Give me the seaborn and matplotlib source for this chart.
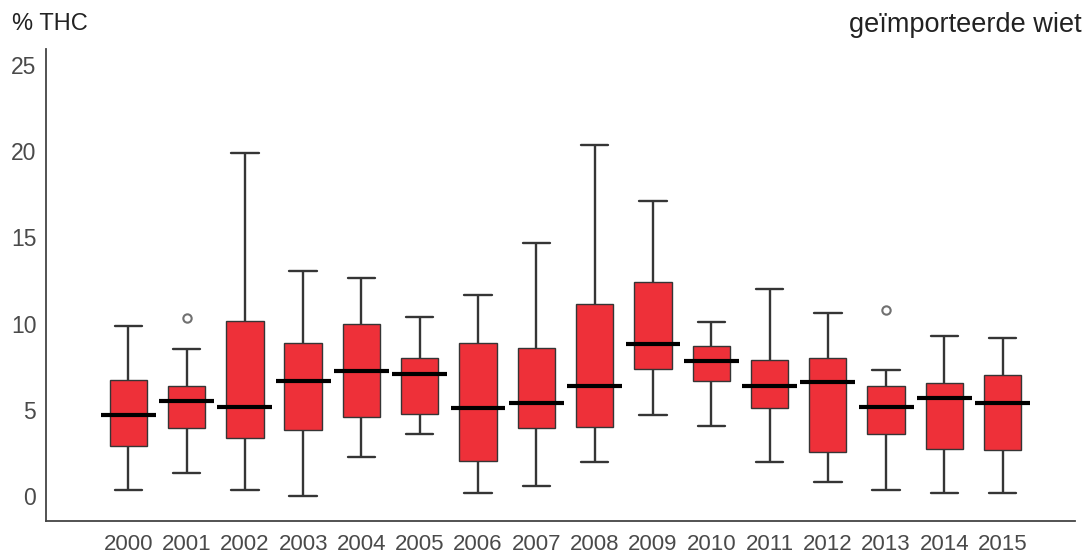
import numpy as np
import pandas as pd
import matplotlib
matplotlib.use("Agg")
import matplotlib.pyplot as plt
import seaborn as sns

# THC percentage of imported cannabis, per year: five-number summaries
years = [str(y) for y in range(2000, 2016)]
whisker_low = [0.37, 1.34, 0.37, 0.00, 2.26, 3.58, 0.20, 0.58, 1.97, 4.68, 4.08, 1.97, 0.80, 0.37, 0.20, 0.20]
q1 = [2.92, 3.95, 3.39, 3.80, 4.61, 4.76, 2.03, 3.95, 4.00, 7.34, 6.66, 5.09, 2.55, 3.58, 2.75, 2.65]
medians = [4.72, 5.50, 5.19, 6.66, 7.24, 7.06, 5.11, 5.40, 6.37, 8.82, 7.84, 6.39, 6.62, 5.15, 5.71, 5.38]
q3 = [6.70, 6.39, 10.14, 8.88, 10.00, 8.01, 8.90, 8.61, 11.11, 12.40, 8.69, 7.89, 8.01, 6.39, 6.58, 6.99]
whisker_high = [9.85, 8.51, 19.87, 13.02, 12.65, 10.39, 11.63, 14.65, 20.34, 17.10, 10.08, 12.00, 10.60, 7.31, 9.27, 9.19]
outliers = {"2001": 10.30, "2013": 10.80}

yticks = [0, 5, 10, 15, 20, 25]

# Build a long table whose quartiles reproduce the summaries exactly
# (9 samples per year -> quartiles fall on samples 2, 4 and 6)
rows = []
for i, yr in enumerate(years):
    top = outliers.get(yr, whisker_high[i])
    sample = [whisker_low[i], whisker_low[i], q1[i], q1[i], medians[i],
              q3[i], q3[i], whisker_high[i], top]
    rows += [(yr, v) for v in sample]
df = pd.DataFrame(rows, columns=["jaar", "thc"])

sns.set_theme(style="white")
plt.rcParams["font.family"] = ["Liberation Sans", "DejaVu Sans"]

fig = plt.figure(figsize=(10.86, 5.57), dpi=100)
ax = fig.add_axes([0.0424, 0.0646, 0.9475, 0.8474])

edge = "#353535"
sns.boxplot(
    data=df, x="jaar", y="thc", order=years, ax=ax,
    color="#ee3039", saturation=1, width=0.64, whis=1.5,
    linecolor=edge, linewidth=1.0, fliersize=6,
    capwidths=0.47,
    boxprops=dict(edgecolor=edge, linewidth=1.0),
    whiskerprops=dict(color=edge, linewidth=1.7),
    capprops=dict(color=edge, linewidth=1.7),
    medianprops=dict(color="black", linewidth=3.0),
    flierprops=dict(marker="o", markerfacecolor="none",
                    markeredgecolor="#707070", markeredgewidth=1.5),
)

# Medians reach past the box edges
for line in ax.lines:
    if line.get_linewidth() == 3.0:
        xd = np.asarray(line.get_xdata(), dtype=float)
        c = xd.mean()
        line.set_xdata([c - 0.47, c + 0.47])
        line.set_zorder(5)

ax.set_xlim(-1.41, 16.24)
ax.set_ylim(-1.45, 25.92)
ax.set_yticks(yticks)
ax.set_yticklabels([str(t) for t in yticks])
ax.set_xlabel("")
ax.set_ylabel("")

for side in ("top", "right"):
    ax.spines[side].set_visible(False)
for side in ("left", "bottom"):
    ax.spines[side].set_color("#444444")
    ax.spines[side].set_linewidth(1.3)

ax.tick_params(axis="both", which="major", direction="out", length=5,
               width=1.3, color="#444444", labelcolor="#4a4a4a", labelsize=16)
ax.tick_params(axis="x", pad=4)
ax.tick_params(axis="y", pad=2, labelsize=16.5)
ax.grid(False)

fig.text(0.011, 0.957, "% THC", fontsize=17, color="#222222",
         ha="left", va="center")
fig.text(0.996, 0.955, "geïmporteerde wiet", fontsize=19.5, color="#222222",
         ha="right", va="center")

fig.savefig("out.png", dpi=100)
